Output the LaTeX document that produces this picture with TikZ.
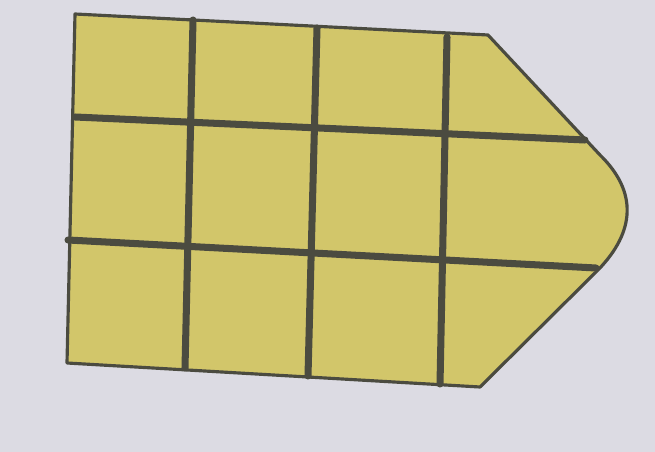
\documentclass[tikz,border=0pt]{standalone}
\usepackage{xcolor}
\definecolor{cPaper}{HTML}{DCDBE3}
\definecolor{cFill}{HTML}{D2C66A}
\definecolor{cLine}{HTML}{4B4B40}
\usepackage{tikz}
\usetikzlibrary{calc}
\tikzset{
  shape-fill/.style={fill=cFill},
  shape-outline/.style={draw=cLine,line width=1.8pt,line join=round},
  grid-line/.style={draw=cLine,line width=4pt,line cap=round},
}

\begin{document}
\begin{tikzpicture}[x=0.02cm,y=-0.02cm]
  \fill[cPaper] (0,0) rectangle (655,452);
  \useasboundingbox (0,0) rectangle (655,452);
  % corners of the shape
  \coordinate (tl) at (75,14);
  \coordinate (tr) at (488,35);
  \coordinate (ru) at (600,155);
  \coordinate (rd) at (598,270);
  \coordinate (br) at (480,387);
  \coordinate (bl) at (67,363);
  \path[shape-fill] (tl) -- (tr) -- (ru)
    .. controls (638,192) and (635,232) .. (rd) -- (br) -- (bl) -- cycle;
  % grid
  \coordinate (h1a) at (75,117);  \coordinate (h1b) at (585,140);
  \coordinate (h2a) at (68,240);  \coordinate (h2b) at (596,268);
  \coordinate (v1a) at (193,20);  \coordinate (v1b) at (185,368);
  \coordinate (v2a) at (317,28);  \coordinate (v2b) at (308,376);
  \coordinate (v3a) at (447,37);  \coordinate (v3b) at (440,384);
  \draw[grid-line] (h1a) -- (h1b);
  \draw[grid-line] (h2a) -- (h2b);
  \draw[grid-line] (v1a) -- (v1b);
  \draw[grid-line] (v2a) -- (v2b);
  \draw[grid-line] (v3a) -- (v3b);
  \draw[shape-outline] (tl) -- (tr) -- (ru)
    .. controls (638,192) and (635,232) .. (rd) -- (br) -- (bl) -- cycle;
\end{tikzpicture}
\end{document}
